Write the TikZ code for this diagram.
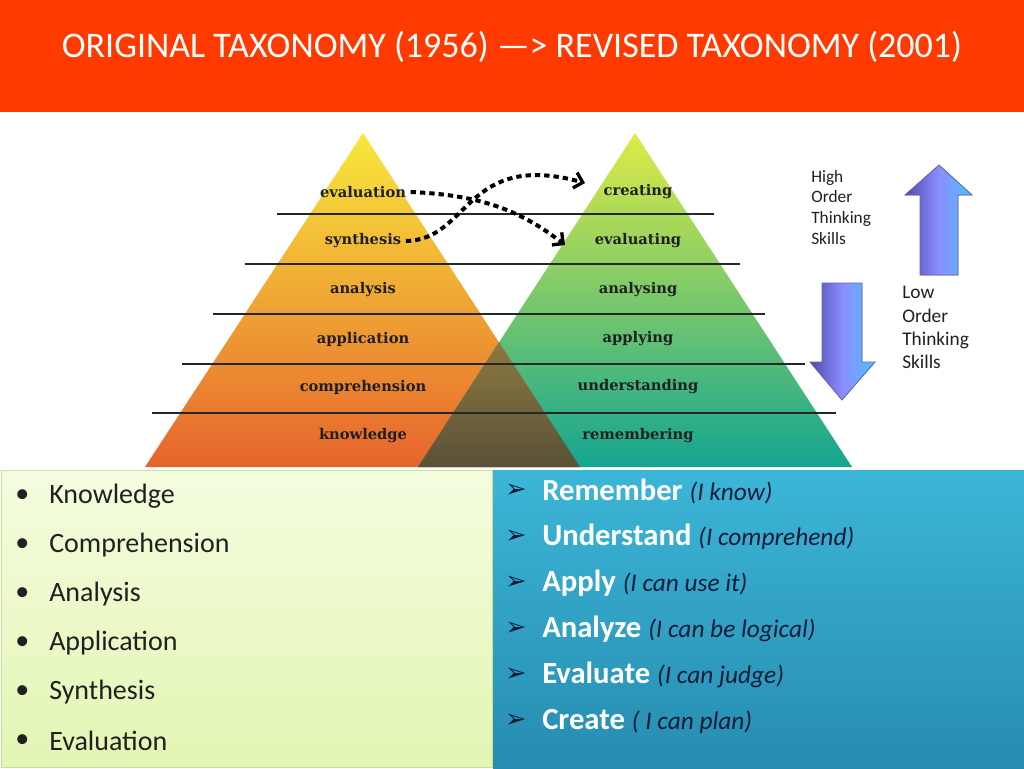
\documentclass[tikz,border=0pt]{standalone}
\usepackage{fontspec}
\setmainfont{Carlito}
\newfontfamily\slab{DejaVu Serif}
\newfontfamily\dv{DejaVu Sans}
\usetikzlibrary{arrows.meta}
\definecolor{hdr}{HTML}{FF3A00}
\definecolor{ink}{HTML}{202020}
\definecolor{navy}{HTML}{141C3A}
\begin{document}
\begin{tikzpicture}[x=0.75pt,y=-0.75pt,
  plab/.style={font=\slab\bfseries\fontsize{11}{13}\selectfont, text=ink},
  lvl/.style={draw=black!85, line width=0.9pt},
  dotarr/.style={line width=3pt, dash pattern=on 4pt off 3pt, -{Straight Barb[length=6pt,width=12pt,line width=2.5pt]}},
  sidetxt/.style={font=\fontsize{13}{15.5}\selectfont, align=left, anchor=north west, text=ink, inner sep=0},
  bul/.style={font=\fontsize{21}{24}\selectfont, anchor=west, text=ink, inner sep=0},
  rb/.style={font=\fontsize{23}{26}\selectfont, anchor=west, inner sep=0},
  bigarrow/.style={draw=blue!40!black!60, line width=0.6pt, left color=blue!55!black!70, right color=blue!35!cyan!70, middle color=blue!45!white}
]
\useasboundingbox (0,0) rectangle (1024,768);
\fill[white] (0,0) rectangle (1024,768);
% header
\fill[hdr] (0,0) rectangle (1024,112);
\node[text=white, font=\fontsize{27}{32}\selectfont] (title) at (512,47) {ORIGINAL TAXONOMY (1956) ---> REVISED TAXONOMY (2001)};
% pyramids
\shade[top color={rgb,255:red,248;green,232;blue,60}, bottom color={rgb,255:red,230;green,100;blue,45}] (363,133) -- (580,467) -- (145,467) -- cycle;
\shade[top color={rgb,255:red,222;green,235;blue,70}, bottom color={rgb,255:red,20;green,165;blue,145}] (635,133) -- (852,467) -- (418,467) -- cycle;
\shade[top color={rgb,255:red,140;green,120;blue,65}, bottom color={rgb,255:red,90;green,82;blue,55}] (499,342) -- (580,467) -- (418,467) -- cycle;
% level lines
\draw[lvl] (277,214) -- (714,214);
\draw[lvl] (245,264) -- (740,264);
\draw[lvl] (213,314) -- (765,314);
\draw[lvl] (182,364) -- (805,364);
\draw[lvl] (152,413) -- (836,413);
% labels
\node[plab] (ev) at (363,192) {evaluation};
\node[plab] (sy) at (363,241) {synthesis};
\node[plab] (an) at (363,290) {analysis};
\node[plab] (ap) at (363,339) {application};
\node[plab] (co) at (363,387) {comprehension};
\node[plab] (kn) at (363,436) {knowledge};
\node[plab] (cr) at (638,192) {creating};
\node[plab] (eg) at (638,241) {evaluating};
\node[plab] (ay) at (638,290) {analysing};
\node[plab] (ag) at (638,339) {applying};
\node[plab] (un) at (638,387) {understanding};
\node[plab] (re) at (638,436) {remembering};
% dotted arrows
\draw[dotarr] (ev.east) .. controls (480,195) and (520,210) .. (565,245);
\draw[dotarr] (sy.east) .. controls (470,240) and (465,150) .. (585,183);
% side arrows
\filldraw[bigarrow] (920,275) -- (920,195) -- (905,195) -- (939,165) -- (972,195) -- (958,195) -- (958,275) -- cycle;
\filldraw[bigarrow] (822,283) -- (822,362) -- (810,362) -- (842,400) -- (875,362) -- (862,362) -- (862,283) -- cycle;
\node[sidetxt] (hi) at (811,170) {High\\Order\\Thinking\\Skills};
\node[sidetxt, font=\fontsize{14.5}{17.5}\selectfont] (lo) at (902,286) {Low\\Order\\Thinking\\Skills};
% bottom left box
\shade[top color={rgb,255:red,244;green,252;blue,222}, bottom color={rgb,255:red,226;green,246;blue,180}, draw={rgb,255:red,200;green,225;blue,150}] (1,470) rectangle (492,767);
\foreach \t [count=\i] in {Knowledge,Comprehension,Analysis,Application,Synthesis,Evaluation}{
  \node[bul] (b\i) at (49,447+49*\i) {\t};
  \node[bul] (d\i) at (15,447+49*\i) {•};
}
% bottom right box
\shade[top color={rgb,255:red,60;green,182;blue,216}, bottom color={rgb,255:red,38;green,140;blue,176}] (493,470) rectangle (1024,768);
\foreach \a/\b [count=\i] in {Remember/I know,Understand/I comprehend,Apply/I can use it,Analyze/I can be logical,Evaluate/I can judge,Create/ I can plan}{
  \node[rb, text=navy, font=\dv\fontsize{19}{22}\selectfont] (m\i) at (505,445+46*\i) {➢};
  \node[rb] (r\i) at (542,445+46*\i) {\textbf{\textcolor{white}{\a}} \textcolor{navy}{\fontsize{19}{22}\selectfont\itshape (\b)}};
}
\end{tikzpicture}
\end{document}
